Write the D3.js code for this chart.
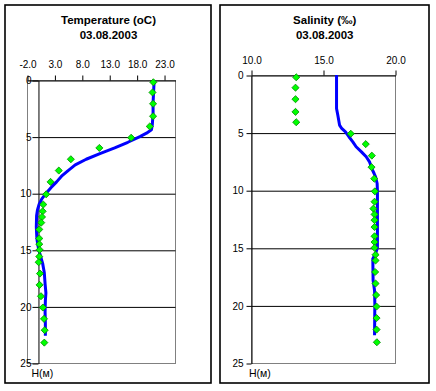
<!DOCTYPE html>
<html><head><meta charset="utf-8">
<script src="https://cdn.jsdelivr.net/npm/d3@7"></script>
<style>
html,body{margin:0;padding:0;background:#fff;}
text{font-family:"Liberation Sans",Arial,sans-serif;fill:#000;}
</style></head>
<body>
<script>
// ---- data ----
const depths = [0.2,1.1,2.1,3.2,4.1,5.1,6.0,7.0,8.0,9.0,10.1,11.0,11.6,12.1,12.6,13.2,14.0,14.5,15.0,15.6,16.1,17.1,18.1,19.1,20.1,21.1,22.1,23.2];
const temperature = [21.05,20.9,21.0,21.0,20.4,17.0,11.2,6.0,3.8,2.3,1.5,0.97,0.86,0.74,0.6,0.24,0.24,0.24,0.3,0.24,0.13,0.37,0.3,0.55,0.9,1.1,1.23,1.16];
const salinity = [13.14,13.09,13.09,13.09,13.14,16.93,17.97,18.39,18.37,18.56,18.6,18.58,18.5,18.58,18.58,18.58,18.58,18.58,18.58,18.65,18.65,18.62,18.65,18.69,18.72,18.72,18.72,18.74];

const tempProfileDepth = [0,1,2,3,4,4.4,4.7,5.0,5.5,6.0,6.5,7.0,7.5,8.0,8.5,9.0,9.5,10.0,10.5,11.0,11.5,12.0,13.0,14.0,14.5,15.0,15.6,16.2,17.0,18.0,18.8,19.5,20.5,21.5,22.6];
const tempProfile      = [21.2,21.1,21.0,21.0,20.85,20.7,19.8,18.6,16.4,14.0,11.3,8.8,6.8,5.5,4.3,3.4,2.4,1.5,0.7,0.2,-0.1,-0.25,-0.3,-0.2,-0.05,0.15,0.5,0.85,1.15,1.3,1.45,1.35,1.3,1.35,1.35];

const salProfileDepth = [0,2.9,3.5,4.35,4.64,4.93,5.36,5.8,6.23,6.67,7.1,7.54,8.12,8.55,8.84,9.42,10.06,15.0,15.5,15.94,17.83,18.7,19.85,22.6];
const salProfile      = [15.94,15.94,16.03,16.15,16.3,16.56,16.8,17.07,17.3,17.67,18.0,18.23,18.39,18.55,18.65,18.76,18.78,18.78,18.65,18.46,18.48,18.58,18.6,18.58];

const tempTicks = [-2,3,8,13,18,23];
const salTicks = [10,15,20];
const depthTicks = [0,5,10,15,20,25];
const gridDepths = [5,10,15,20];

const W = 436, H = 391;
const svg = d3.select("body").append("svg").attr("width", W).attr("height", H);
svg.append("rect").attr("width", W).attr("height", H).attr("fill", "#fff");

function panel(opt) {
  const g = svg.append("g");
  // outer frame
  g.append("rect").attr("x", opt.frame[0]).attr("y", opt.frame[1])
    .attr("width", opt.frame[2]).attr("height", opt.frame[3])
    .attr("fill", "none").attr("stroke", "#000").attr("stroke-width", 1.6);
  // titles
  g.append("text").attr("x", opt.cx).attr("y", 24).attr("text-anchor", "middle")
    .style("font-size", "11.5px").style("font-weight", "bold").text(opt.title);
  g.append("text").attr("x", opt.cx).attr("y", 39).attr("text-anchor", "middle")
    .style("font-size", "11.5px").style("font-weight", "bold").text("03.08.2003");

  const x = d3.scaleLinear().domain(opt.xDomain).range(opt.xRange);
  const y = d3.scaleLinear().domain([0, 25]).range(opt.yRange);
  const [x0, x1] = opt.xRange, [y0, y1] = opt.yRange;

  // plot-area border (grey)
  g.append("rect").attr("x", x0 + 0.5).attr("y", y0 + 0.5)
    .attr("width", x1 - x0).attr("height", y1 - y0)
    .attr("fill", "none").attr("stroke", "#808080").attr("stroke-width", 1);

  const axX = x(opt.yCross);
  // gridlines
  const grid = g.append("g").attr("transform", `translate(${axX + 0.5},0.5)`)
    .call(d3.axisLeft(y).tickValues(gridDepths).tickSize(-(x1 - axX)).tickFormat(""));
  grid.select(".domain").remove();
  grid.selectAll("line").attr("stroke", "#000");

  // top axis
  const xa = g.append("g").attr("transform", `translate(0.5,${y0 + 0.5})`)
    .call(d3.axisTop(x).tickValues(opt.xTicks).tickSize(5).tickSizeOuter(0)
      .tickPadding(opt.xPad).tickFormat(d => d.toFixed(1)));
  xa.select(".domain").attr("stroke", "#000");
  xa.selectAll("line").attr("stroke", "#000");
  xa.selectAll("text").style("font-size", "10px").attr("fill", "#000")
    .attr("font-family", '"Liberation Sans",Arial,sans-serif');

  // left axis
  const ya = g.append("g").attr("transform", `translate(${axX + 0.5},0.5)`)
    .call(d3.axisLeft(y).tickValues(depthTicks).tickSize(opt.yTick).tickSizeOuter(0)
      .tickPadding(opt.yPad).tickFormat(d3.format("d")));
  ya.select(".domain").attr("stroke", "#000");
  ya.selectAll("line").attr("stroke", "#000");
  ya.selectAll("text").style("font-size", "10px").attr("fill", "#000")
    .attr("font-family", '"Liberation Sans",Arial,sans-serif');

  // depth unit label
  g.append("text").attr("x", opt.hx).attr("y", opt.hy).style("font-size", "10.5px").text("H(м)");

  // profile line
  const line = d3.line().x(d => x(d[1])).y(d => y(d[0]));
  g.append("path").datum(d3.zip(opt.lineDepth, opt.lineVals))
    .attr("d", line).attr("fill", "none").attr("stroke", "#0000ff")
    .attr("stroke-width", 3).attr("stroke-linejoin", "round");

  // markers
  const sym = d3.symbol(d3.symbolSquare, 25);
  g.append("g").selectAll("path").data(d3.zip(depths, opt.pts)).join("path")
    .attr("d", sym)
    .attr("transform", d => `translate(${x(d[1])},${y(d[0])}) rotate(45)`)
    .attr("fill", "#00ff00").attr("stroke", "#009000").attr("stroke-width", 0.8);
}

panel({
  frame: [5, 5, 206, 378], cx: 108.5, title: "Temperature (oC)",
  xDomain: [-2, 25], xRange: [27, 175], yRange: [80, 363], yCross: 0,
  xTicks: tempTicks, xPad: 8, yTick: 6, yPad: 1, hx: 31.5, hy: 376.5,
  lineDepth: tempProfileDepth, lineVals: tempProfile, pts: temperature
});
panel({
  frame: [220, 5, 209, 378], cx: 324.7, title: "Salinity (‰)",
  xDomain: [10, 20], xRange: [251, 395], yRange: [75, 363], yCross: 10,
  xTicks: salTicks, xPad: 6.5, yTick: 5, yPad: 3, hx: 249, hy: 377,
  lineDepth: salProfileDepth, lineVals: salProfile, pts: salinity
});
</script>
</body></html>
